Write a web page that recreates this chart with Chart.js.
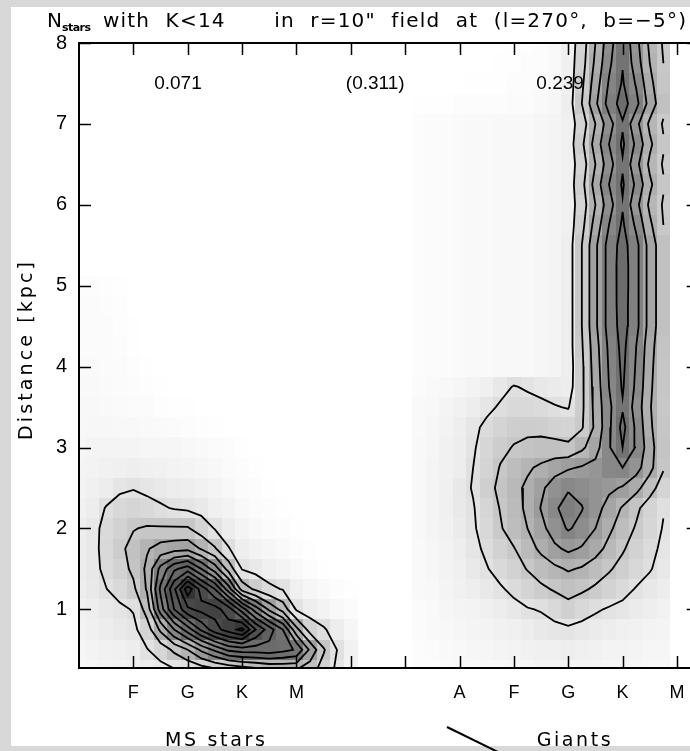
<!DOCTYPE html>
<html>
<head>
<meta charset="utf-8">
<script src="https://cdn.jsdelivr.net/npm/chart.js@4.4.1/dist/chart.umd.min.js"></script>
<style>
  html, body { margin: 0; padding: 0; overflow: hidden; background: #d8d8d8; }
  #wrap { position: relative; width: 690px; height: 751px; overflow: hidden; }
  canvas { display: block; }
</style>
</head>
<body>
<div id="wrap"><canvas id="c" width="720" height="751" style="width:720px;height:751px"></canvas></div>
<script>
// ---- axes ----
const xTickValues = [1, 2, 3, 4, 5, 6, 7, 8, 9, 10, 11];
const xTickLabels = ['F', 'G', 'K', 'M', '', '', 'A', 'F', 'G', 'K', 'M'];
const yTickValues = [1, 2, 3, 4, 5, 6, 7, 8];
const xMax = 11.4;
const yMin = 0.275;
const yMax = 8;

// ---- contour levels (star counts per cell, arbitrary units) ----
const contourLevels = [1, 2, 3, 4, 5, 6, 7, 8, 9, 10, 11];

// ---- fractions of stars in each group ----
const fractionLabels = ['0.071', '(0.311)', '0.239'];
const fractionX = [1.82, 5.45, 8.85];
const fractionY = 7.49;

// ---- group names below the spectral types ----
const groupNames = ['MS stars', 'Giants'];
const groupX = [2.5, 9.1];

// ---- main-sequence density grid ----
const msX = [0, 0.25, 0.5, 0.75, 1, 1.25, 1.5, 1.75, 2, 2.25, 2.5, 2.75, 3, 3.25, 3.5, 3.75, 4, 4.25, 4.5, 4.75, 5];
const msY = [5, 4.75, 4.5, 4.25, 4, 3.75, 3.5, 3.25, 3, 2.75, 2.5, 2.25, 2, 1.75, 1.5, 1.25, 1, 0.75, 0.5, 0.25];
const msDensity = [
  [0.1, 0.1, 0.08, 0.05, 0, 0, 0, 0, 0, 0, 0, 0, 0, 0, 0, 0, 0, 0, 0, 0, 0],
  [0.12, 0.12, 0.1, 0.06, 0.02, 0, 0, 0, 0, 0, 0, 0, 0, 0, 0, 0, 0, 0, 0, 0, 0],
  [0.15, 0.15, 0.12, 0.08, 0.03, 0, 0, 0, 0, 0, 0, 0, 0, 0, 0, 0, 0, 0, 0, 0, 0],
  [0.15, 0.15, 0.13, 0.1, 0.05, 0.02, 0, 0, 0, 0, 0, 0, 0, 0, 0, 0, 0, 0, 0, 0, 0],
  [0.18, 0.18, 0.15, 0.12, 0.06, 0.03, 0, 0, 0, 0, 0, 0, 0, 0, 0, 0, 0, 0, 0, 0, 0],
  [0.2, 0.2, 0.18, 0.15, 0.1, 0.06, 0.03, 0, 0, 0, 0, 0, 0, 0, 0, 0, 0, 0, 0, 0, 0],
  [0.22, 0.22, 0.2, 0.18, 0.15, 0.12, 0.08, 0.05, 0.03, 0, 0, 0, 0, 0, 0, 0, 0, 0, 0, 0, 0],
  [0.25, 0.28, 0.28, 0.25, 0.22, 0.2, 0.18, 0.15, 0.1, 0.08, 0.05, 0, 0, 0, 0, 0, 0, 0, 0, 0, 0],
  [0.3, 0.35, 0.35, 0.35, 0.35, 0.3, 0.3, 0.3, 0.25, 0.2, 0.15, 0.1, 0.05, 0, 0, 0, 0, 0, 0, 0, 0],
  [0.35, 0.4, 0.45, 0.5, 0.55, 0.5, 0.45, 0.4, 0.35, 0.3, 0.25, 0.15, 0.1, 0.05, 0, 0, 0, 0, 0, 0, 0],
  [0.4, 0.5, 0.6, 0.85, 0.95, 0.8, 0.7, 0.6, 0.55, 0.45, 0.35, 0.25, 0.15, 0.1, 0.05, 0, 0, 0, 0, 0, 0],
  [0.45, 0.6, 1.05, 1.35, 1.45, 1.3, 1.1, 0.95, 0.85, 0.7, 0.5, 0.4, 0.25, 0.15, 0.1, 0.05, 0, 0, 0, 0, 0],
  [0.55, 0.75, 1.25, 1.6, 1.95, 2.1, 2.1, 2.1, 2.1, 1.5, 0.95, 0.6, 0.35, 0.25, 0.15, 0.1, 0.05, 0, 0, 0, 0],
  [0.6, 0.75, 1.3, 1.8, 2.3, 2.9, 3.4, 3.6, 3.7, 2.9, 2.1, 1.05, 0.55, 0.4, 0.3, 0.2, 0.1, 0.05, 0, 0, 0],
  [0.6, 0.75, 1.2, 1.6, 2.2, 3.2, 5.3, 6.8, 7.5, 6.0, 4.5, 2.6, 0.95, 0.7, 0.5, 0.35, 0.25, 0.1, 0.05, 0, 0],
  [0.55, 0.7, 0.98, 1.3, 1.8, 3.1, 6.2, 8.8, 11.6, 9.6, 8.0, 5.5, 2.6, 1.8, 1.2, 0.95, 0.5, 0.3, 0.2, 0.1, 0.05],
  [0.45, 0.55, 0.7, 0.85, 1.05, 2.4, 5.5, 8.0, 9.8, 10.3, 10.4, 9.5, 7.5, 5.5, 3.8, 2.6, 0.9, 0.55, 0.4, 0.25, 0.15],
  [0.4, 0.5, 0.6, 0.7, 0.8, 1.5, 3.2, 5.0, 6.5, 8.2, 9.6, 10.5, 11.3, 9.0, 7.5, 6.0, 3.3, 1.6, 1.1, 0.6, 0.3],
  [0.3, 0.4, 0.45, 0.5, 0.6, 0.95, 1.4, 2.2, 3.0, 4.2, 5.2, 6.2, 6.5, 6.5, 6.6, 6.3, 5.9, 3.8, 2.1, 0.98, 0.45],
  [0.25, 0.3, 0.35, 0.4, 0.45, 0.6, 0.7, 0.9, 1.1, 1.4, 1.7, 2.0, 2.3, 2.6, 2.9, 3.0, 3.0, 2.4, 1.6, 0.8, 0.4]
];

// ---- giant-branch density grid ----
const giantX = [6.25, 6.5, 6.75, 7, 7.25, 7.5, 7.75, 8, 8.25, 8.5, 8.75, 9, 9.25, 9.5, 9.75, 10, 10.25, 10.5, 10.75];
const giantY = [8, 7.75, 7.5, 7.25, 7, 6.75, 6.5, 6.25, 6, 5.75, 5.5, 5.25, 5, 4.75, 4.5, 4.25, 4, 3.75, 3.5, 3.25, 3, 2.75, 2.5, 2.25, 2, 1.75, 1.5, 1.25, 1, 0.75, 0.5, 0.25];
const giantDensity = [
  [0, 0, 0, 0, 0, 0, 0, 0.05, 0.05, 0.1, 0.2, 0.45, 1.5, 3.0, 4.6, 5.85, 4.3, 2.8, 1.9],
  [0, 0, 0, 0, 0, 0, 0.05, 0.05, 0.1, 0.1, 0.2, 0.5, 1.6, 3.2, 4.8, 5.95, 4.5, 3.0, 2.0],
  [0, 0, 0, 0, 0.05, 0.05, 0.05, 0.1, 0.1, 0.15, 0.25, 0.5, 1.8, 3.5, 5.1, 6.1, 4.9, 3.3, 2.1],
  [0.05, 0.05, 0.05, 0.1, 0.1, 0.1, 0.1, 0.15, 0.15, 0.2, 0.3, 0.55, 2.0, 3.8, 5.4, 6.45, 5.3, 3.6, 2.3],
  [0.1, 0.12, 0.15, 0.18, 0.2, 0.2, 0.22, 0.25, 0.25, 0.3, 0.35, 0.5, 1.5, 3.0, 4.6, 5.9, 4.3, 2.8, 1.9],
  [0.1, 0.12, 0.15, 0.18, 0.2, 0.2, 0.22, 0.25, 0.25, 0.3, 0.35, 0.5, 1.8, 3.4, 5.0, 6.15, 4.8, 3.2, 2.1],
  [0.1, 0.12, 0.15, 0.18, 0.2, 0.2, 0.22, 0.25, 0.25, 0.3, 0.35, 0.5, 1.5, 3.0, 4.6, 5.9, 4.3, 2.8, 1.9],
  [0.1, 0.12, 0.15, 0.18, 0.2, 0.2, 0.22, 0.25, 0.25, 0.3, 0.35, 0.5, 1.7, 3.4, 5.0, 6.12, 4.8, 3.2, 2.1],
  [0.1, 0.12, 0.15, 0.18, 0.2, 0.2, 0.22, 0.25, 0.25, 0.3, 0.35, 0.5, 1.5, 3.0, 4.6, 5.92, 4.3, 2.8, 1.9],
  [0.1, 0.12, 0.15, 0.18, 0.2, 0.2, 0.22, 0.25, 0.25, 0.3, 0.35, 0.5, 1.7, 3.4, 5.0, 6.15, 4.8, 3.2, 2.0],
  [0.1, 0.12, 0.15, 0.18, 0.2, 0.2, 0.22, 0.25, 0.25, 0.3, 0.35, 0.55, 2.0, 3.8, 5.4, 6.4, 5.3, 3.6, 2.3],
  [0.1, 0.12, 0.15, 0.18, 0.2, 0.2, 0.22, 0.25, 0.25, 0.3, 0.35, 0.55, 2.0, 3.8, 5.4, 6.5, 5.3, 3.6, 2.3],
  [0.1, 0.12, 0.15, 0.18, 0.2, 0.2, 0.22, 0.25, 0.25, 0.3, 0.35, 0.55, 2.0, 3.8, 5.4, 6.5, 5.3, 3.6, 2.3],
  [0.1, 0.12, 0.15, 0.18, 0.2, 0.2, 0.22, 0.25, 0.25, 0.3, 0.35, 0.55, 2.0, 3.8, 5.4, 6.45, 5.3, 3.6, 2.3],
  [0.1, 0.12, 0.15, 0.18, 0.2, 0.2, 0.22, 0.25, 0.25, 0.3, 0.35, 0.55, 2.0, 3.8, 5.4, 6.4, 5.3, 3.6, 2.3],
  [0.1, 0.12, 0.15, 0.18, 0.2, 0.2, 0.22, 0.25, 0.25, 0.3, 0.35, 0.55, 1.9, 3.6, 5.2, 6.3, 5.0, 3.4, 2.2],
  [0.1, 0.12, 0.15, 0.18, 0.2, 0.2, 0.22, 0.25, 0.25, 0.3, 0.35, 0.55, 1.8, 3.5, 5.1, 6.2, 4.9, 3.3, 2.1],
  [0.15, 0.2, 0.25, 0.3, 0.4, 0.5, 0.75, 1.05, 0.9, 0.75, 0.65, 0.6, 1.8, 3.4, 5.0, 6.1, 4.8, 3.2, 2.1],
  [0.2, 0.25, 0.35, 0.45, 0.6, 0.8, 1.1, 1.3, 1.3, 1.2, 1.05, 0.95, 1.8, 3.3, 4.8, 5.9, 4.6, 3.1, 2.0],
  [0.2, 0.3, 0.4, 0.55, 0.8, 1.2, 1.5, 1.75, 1.8, 1.75, 1.6, 1.5, 1.9, 3.2, 4.8, 6.3, 4.8, 3.2, 2.1],
  [0.25, 0.3, 0.45, 0.6, 0.9, 1.4, 1.8, 2.05, 2.2, 2.3, 2.3, 2.2, 2.8, 3.6, 4.9, 6.0, 4.9, 3.4, 2.2],
  [0.25, 0.35, 0.45, 0.6, 1.0, 1.5, 2.05, 2.5, 2.85, 3.2, 3.6, 3.9, 4.1, 4.3, 4.9, 5.0, 4.4, 3.3, 2.1],
  [0.25, 0.35, 0.5, 0.75, 1.05, 1.7, 2.2, 2.7, 3.2, 3.8, 4.5, 4.9, 4.7, 4.4, 4.2, 3.9, 3.3, 2.4, 1.5],
  [0.25, 0.35, 0.5, 0.7, 0.95, 1.4, 2.05, 2.6, 3.2, 4.05, 4.85, 5.4, 5.05, 4.4, 3.6, 2.9, 2.2, 1.5, 1.05],
  [0.25, 0.35, 0.45, 0.65, 0.9, 1.35, 1.9, 2.5, 3.0, 3.7, 4.5, 5.1, 4.7, 4.0, 3.2, 2.5, 1.9, 1.4, 0.95],
  [0.2, 0.3, 0.4, 0.55, 0.8, 1.15, 1.6, 1.95, 2.6, 3.2, 3.8, 4.2, 3.9, 3.4, 2.7, 2.1, 1.6, 1.2, 0.85],
  [0.2, 0.3, 0.4, 0.5, 0.7, 0.95, 1.3, 1.6, 2.05, 2.5, 2.8, 3.1, 2.9, 2.5, 2.1, 1.7, 1.35, 1.05, 0.75],
  [0.2, 0.25, 0.35, 0.45, 0.55, 0.7, 0.9, 1.2, 1.5, 1.8, 2.1, 2.35, 2.15, 1.85, 1.55, 1.25, 0.95, 0.75, 0.6],
  [0.15, 0.2, 0.3, 0.35, 0.4, 0.5, 0.6, 0.75, 0.95, 1.05, 1.3, 1.65, 1.35, 1.1, 0.92, 0.8, 0.65, 0.55, 0.45],
  [0.15, 0.2, 0.25, 0.3, 0.35, 0.4, 0.45, 0.5, 0.6, 0.7, 0.8, 0.85, 0.75, 0.65, 0.6, 0.5, 0.45, 0.4, 0.35],
  [0.1, 0.15, 0.2, 0.25, 0.3, 0.3, 0.35, 0.4, 0.45, 0.5, 0.5, 0.55, 0.5, 0.45, 0.4, 0.4, 0.35, 0.3, 0.3],
  [0.1, 0.1, 0.15, 0.2, 0.2, 0.25, 0.25, 0.3, 0.3, 0.35, 0.35, 0.4, 0.35, 0.35, 0.3, 0.3, 0.3, 0.25, 0.25]
];

const grids = [
  { xs: msX, ys: msY, z: msDensity },
  { xs: giantX, ys: giantY, z: giantDensity }
];

const FONT = "'Liberation Sans', Arial, Helvetica, sans-serif";
const WIDE = "'DejaVu Sans', Verdana, sans-serif";

// grey level for a cell value
const shadeStops = [[0, 255], [0.3, 246], [1, 224], [2, 200], [3, 178], [4, 156], [5, 134], [6, 114], [8, 90], [10, 70], [12, 48]];
function shade(v) {
  let g = shadeStops[shadeStops.length - 1][1];
  for (let i = 1; i < shadeStops.length; i++) {
    const [v0, g0] = shadeStops[i - 1], [v1, g1] = shadeStops[i];
    if (v <= v1) { g = g0 + (g1 - g0) * (v - v0) / (v1 - v0); break; }
  }
  g = Math.round(g);
  return `rgb(${g},${g},${g})`;
}

// marching squares: returns polylines of {x,y} for one level
function traceContours(xs, ys, Z, level) {
  const segs = [];
  const R = ys.length, C = xs.length;
  const cross = (r1, c1, r2, c2) => {
    const v1 = Z[r1][c1], v2 = Z[r2][c2];
    const t = (level - v1) / (v2 - v1);
    return { x: xs[c1] + t * (xs[c2] - xs[c1]), y: ys[r1] + t * (ys[r2] - ys[r1]) };
  };
  for (let r = 0; r < R - 1; r++) {
    for (let c = 0; c < C - 1; c++) {
      const v0 = Z[r][c], v1 = Z[r][c + 1], v2 = Z[r + 1][c + 1], v3 = Z[r + 1][c];
      if ([v0, v1, v2, v3].some(v => v === null || v === undefined)) continue;
      const b0 = v0 >= level, b1 = v1 >= level, b2 = v2 >= level, b3 = v3 >= level;
      const e = {};
      if (b0 !== b1) e.e0 = { k: 'h' + r + '_' + c, p: cross(r, c, r, c + 1) };
      if (b1 !== b2) e.e1 = { k: 'v' + r + '_' + (c + 1), p: cross(r, c + 1, r + 1, c + 1) };
      if (b3 !== b2) e.e2 = { k: 'h' + (r + 1) + '_' + c, p: cross(r + 1, c, r + 1, c + 1) };
      if (b0 !== b3) e.e3 = { k: 'v' + r + '_' + c, p: cross(r, c, r + 1, c) };
      const names = Object.keys(e);
      if (names.length === 2) {
        segs.push([e[names[0]], e[names[1]]]);
      } else if (names.length === 4) {
        const centre = (v0 + v1 + v2 + v3) / 4 >= level;
        if (centre === b0) { segs.push([e.e0, e.e1]); segs.push([e.e2, e.e3]); }
        else { segs.push([e.e3, e.e0]); segs.push([e.e1, e.e2]); }
      }
    }
  }
  const byKey = new Map();
  segs.forEach((s, i) => s.forEach(p => {
    if (!byKey.has(p.k)) byKey.set(p.k, []);
    byKey.get(p.k).push(i);
  }));
  const used = new Array(segs.length).fill(false);
  const lines = [];
  for (let i = 0; i < segs.length; i++) {
    if (used[i]) continue;
    used[i] = true;
    const chain = [segs[i][0], segs[i][1]];
    const grow = (atEnd) => {
      for (;;) {
        const tip = atEnd ? chain[chain.length - 1] : chain[0];
        const j = (byKey.get(tip.k) || []).find(n => !used[n]);
        if (j === undefined) break;
        used[j] = true;
        const nxt = segs[j][0].k === tip.k ? segs[j][1] : segs[j][0];
        if (atEnd) chain.push(nxt); else chain.unshift(nxt);
      }
    };
    grow(true);
    grow(false);
    lines.push(chain.map(p => ({ x: p.p.x, y: p.p.y })));
  }
  return lines;
}

const datasets = [];
grids.forEach(g => {
  contourLevels.forEach(level => {
    traceContours(g.xs, g.ys, g.z, level).forEach(pts => {
      datasets.push({
        data: pts,
        showLine: true,
        borderColor: '#000',
        borderWidth: 1.8,
        pointRadius: 0,
        fill: false,
        tension: 0
      });
    });
  });
});

// paper background
const pagePlugin = {
  id: 'page',
  beforeDraw(chart) {
    const c = chart.ctx;
    c.save();
    c.fillStyle = '#d8d8d8';
    c.fillRect(0, 0, chart.width, chart.height);
    c.fillStyle = '#ffffff';
    c.fillRect(11, 7, chart.width - 11, 739);
    c.restore();
  }
};

// grey-scale density cells
const densityPlugin = {
  id: 'density',
  beforeDatasetsDraw(chart) {
    const { ctx, chartArea: a, scales: { x, y } } = chart;
    ctx.save();
    ctx.beginPath();
    ctx.rect(a.left, a.top, a.right - a.left, a.bottom - a.top);
    ctx.clip();
    grids.forEach(g => {
      const hx = Math.abs(g.xs[1] - g.xs[0]) / 2;
      const hy = Math.abs(g.ys[1] - g.ys[0]) / 2;
      g.z.forEach((row, r) => row.forEach((v, c) => {
        if (!(v > 0.02)) return;
        const x0 = Math.round(x.getPixelForValue(g.xs[c] - hx));
        const x1 = Math.round(x.getPixelForValue(g.xs[c] + hx));
        const y0 = Math.round(y.getPixelForValue(g.ys[r] + hy));
        const y1 = Math.round(y.getPixelForValue(g.ys[r] - hy));
        ctx.fillStyle = shade(v);
        ctx.fillRect(x0, y0, x1 - x0, y1 - y0);
      }));
    });
    ctx.restore();
  }
};

// box with inward ticks on all four sides
const framePlugin = {
  id: 'frame',
  afterDatasetsDraw(chart) {
    const { ctx, chartArea: a, scales: { x, y } } = chart;
    ctx.save();
    ctx.strokeStyle = '#000';
    ctx.lineWidth = 1.5;
    const tick = 12;
    ctx.beginPath();
    xTickValues.forEach(v => {
      const px = Math.round(x.getPixelForValue(v)) + 0.5;
      ctx.moveTo(px, a.bottom); ctx.lineTo(px, a.bottom - tick);
      ctx.moveTo(px, a.top); ctx.lineTo(px, a.top + tick);
    });
    yTickValues.forEach(v => {
      const py = Math.round(y.getPixelForValue(v)) + 0.5;
      ctx.moveTo(a.left, py); ctx.lineTo(a.left + tick, py);
      ctx.moveTo(a.right, py); ctx.lineTo(a.right - tick, py);
    });
    ctx.stroke();
    ctx.lineWidth = 2;
    ctx.strokeRect(a.left, a.top, a.right - a.left, a.bottom - a.top);
    ctx.restore();
  }
};

// draws words with a fixed letter spacing, spreading the word gaps to fill a width
function drawWords(ctx, text, left, baseline, width, ls) {
  const words = text.split(' ');
  ctx.letterSpacing = ls + 'px';
  const widths = words.map(w => w ? ctx.measureText(w).width - ls : 0);
  const total = widths.reduce((s, w) => s + w, 0);
  const gap = (width - total) / (words.length - 1);
  let xPos = left;
  words.forEach((w, i) => {
    if (w) ctx.fillText(w, xPos, baseline);
    xPos += widths[i] + gap;
  });
  ctx.letterSpacing = '0px';
}

// draws a string spread evenly over a width
function drawSpread(ctx, text, left, baseline, width) {
  ctx.letterSpacing = '0px';
  const n = [...text].length;
  const w0 = ctx.measureText(text).width;
  const ls = (width - w0) / (n - 1);
  ctx.letterSpacing = ls.toFixed(2) + 'px';
  ctx.fillText(text, left, baseline);
  ctx.letterSpacing = '0px';
}

// title, axis title, fractions and group names
const textPlugin = {
  id: 'texts',
  afterDraw(chart) {
    const { ctx, scales: { x, y } } = chart;
    ctx.save();
    ctx.fillStyle = '#000';
    ctx.textBaseline = 'alphabetic';
    ctx.textAlign = 'left';

    ctx.font = `20px ${WIDE}`;
    ctx.fillText('N', 47, 27);
    ctx.font = `bold 11px ${WIDE}`;
    drawSpread(ctx, 'stars', 62, 31, 29);
    ctx.font = `20px ${WIDE}`;
    drawWords(ctx, 'with K<14   in r=10" field at (l=270\u00b0, b=\u22125\u00b0)', 103, 27, 583, 1.2);

    ctx.textBaseline = 'middle';
    ctx.textAlign = 'center';
    ctx.font = `19px ${FONT}`;
    fractionLabels.forEach((t, i) => {
      ctx.fillText(t, x.getPixelForValue(fractionX[i]), y.getPixelForValue(fractionY));
    });

    ctx.textAlign = 'left';
    ctx.font = `19px ${WIDE}`;
    groupNames.forEach((t, i) => {
      const w = t === 'Giants' ? 74 : 100;
      const cx = x.getPixelForValue(groupX[i]);
      drawSpread(ctx, t, cx - w / 2, 741, w);
    });

    // vertical axis title
    ctx.save();
    ctx.translate(27, 351);
    ctx.rotate(-Math.PI / 2);
    ctx.textAlign = 'left';
    ctx.font = `19px ${WIDE}`;
    drawSpread(ctx, 'Distance [kpc]', -89, 0, 178);
    ctx.restore();

    // pen stroke at the lower edge of the sheet
    ctx.strokeStyle = '#000';
    ctx.lineWidth = 2;
    ctx.beginPath();
    ctx.moveTo(447, 727);
    ctx.lineTo(500, 753);
    ctx.stroke();
    ctx.restore();
  }
};

const chartRight = 79 + 54.36 * xMax;

new Chart(document.getElementById('c'), {
  type: 'scatter',
  data: { datasets },
  options: {
    responsive: false,
    animation: false,
    events: [],
    layout: { padding: { top: 43, left: 0, bottom: 0, right: 720 - chartRight } },
    plugins: {
      legend: { display: false },
      tooltip: { enabled: false },
      title: { display: false }
    },
    scales: {
      x: {
        type: 'linear',
        min: 0,
        max: xMax,
        afterFit: s => { s.height = 751 - 668; },
        afterBuildTicks: s => { s.ticks = xTickValues.map(v => ({ value: v })); },
        grid: { display: false, drawTicks: false },
        border: { display: false },
        ticks: {
          autoSkip: false,
          maxRotation: 0,
          minRotation: 0,
          padding: 14,
          color: '#000',
          font: { family: FONT, size: 18 },
          callback: v => { const i = xTickValues.indexOf(v); return i >= 0 ? xTickLabels[i] : ''; }
        }
      },
      y: {
        type: 'linear',
        min: yMin,
        max: yMax,
        afterFit: s => { s.width = 79; },
        afterBuildTicks: s => { s.ticks = yTickValues.map(v => ({ value: v })); },
        grid: { display: false, drawTicks: false },
        border: { display: false },
        ticks: {
          padding: 12,
          color: '#000',
          font: { family: FONT, size: 20 },
          callback: v => String(v)
        }
      }
    }
  },
  plugins: [pagePlugin, densityPlugin, framePlugin, textPlugin]
});
</script>
</body>
</html>
